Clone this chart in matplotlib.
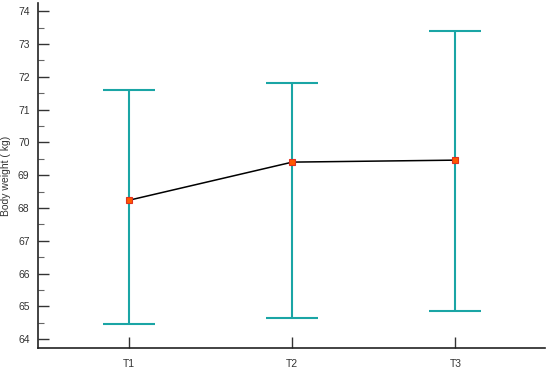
import matplotlib
matplotlib.use("Agg")
import matplotlib.pyplot as plt
import numpy as np

plt.rcParams["font.family"] = ["Liberation Sans", "DejaVu Sans"]

groups = ["T1", "T2", "T3"]
means = [68.24, 69.40, 69.46]
upper = [71.60, 71.80, 73.40]
lower = [64.48, 64.65, 64.85]

fig = plt.figure(figsize=(5.5, 3.7), dpi=100)
ax = fig.add_axes([0.069, 0.059, 0.922, 0.933])
x = np.arange(1, len(groups) + 1)
m = np.array(means)
err = [m - np.array(lower), np.array(upper) - m]
teal = "#1aa5a5"
ax.errorbar(x, m, yerr=err, fmt="none", ecolor=teal, elinewidth=1.5,
            capsize=19, capthick=1.5, zorder=2)
ax.plot(x, m, color="black", lw=1.1, zorder=3)
ax.plot(x, m, ls="none", marker="s", ms=5, mfc="#ff5a00", mec="#e03020",
        mew=0.8, zorder=4)

ax.set_xlim(0.44, 3.55)
ax.set_ylim(63.73, 74.25)
ax.set_xticks(x)
ax.set_xticklabels(groups)
ax.set_yticks(np.arange(64, 75, 1))
ax.set_yticks(np.arange(64.5, 74.5, 1), minor=True)
ax.tick_params(axis="both", which="major", direction="in", length=8,
               width=1, color="#333333", labelsize=7.5, pad=6,
               labelcolor="#333333")
ax.tick_params(axis="y", which="minor", direction="in", length=4,
               width=0.8, color="#666666")
ax.tick_params(axis="x", pad=8)
for s in ["top", "right"]:
    ax.spines[s].set_visible(False)
for s in ["left", "bottom"]:
    ax.spines[s].set_linewidth(1.2)
    ax.spines[s].set_color("#222222")
ax.set_ylabel("Body weight ( kg)", fontsize=7.5, labelpad=5, color="#333333")
fig.savefig("out.png", dpi=100)
